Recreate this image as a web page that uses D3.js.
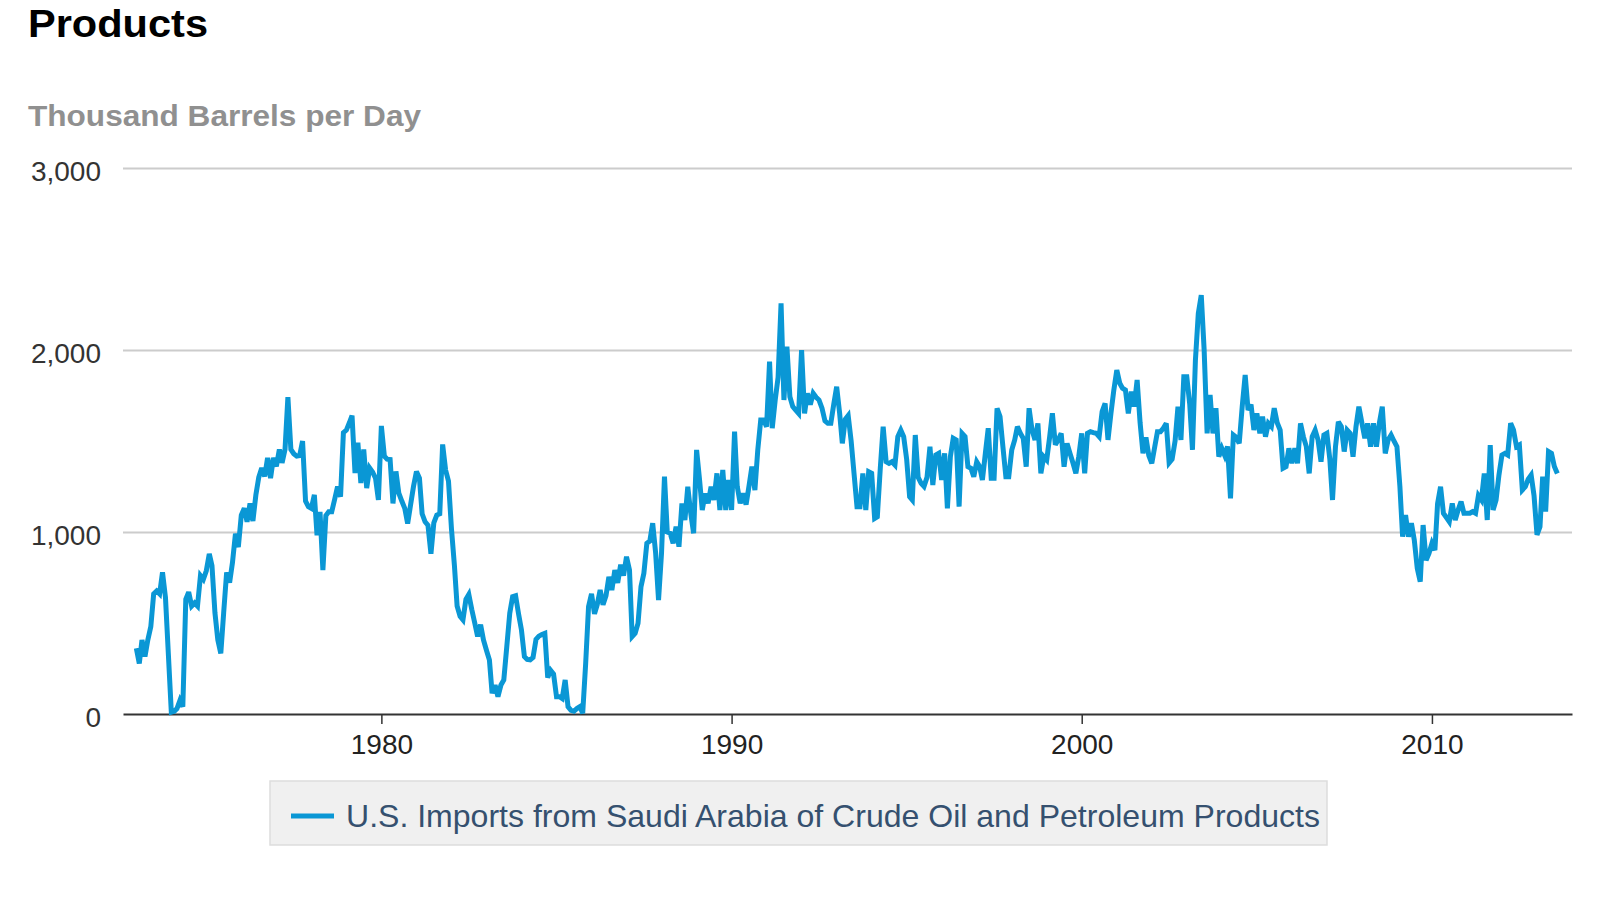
<!DOCTYPE html>
<html>
<head>
<meta charset="utf-8">
<script src="https://cdn.jsdelivr.net/npm/d3@7"></script>
<style>
	body { margin: 0; background: #fff; }
	text { font-family: "Liberation Sans", Arial, Helvetica, sans-serif; }
</style>
</head>
<body>
<div id="theChart"></div>
<script>
// monthly values, thousand barrels per day, starting Jan 1973
const startYear = 1973

const v1970s = [
	361, 278, 407, 315, 407, 480, 660, 676, 660, 778, 640, 330,
	10, 15, 30, 75, 40, 630, 670, 593, 610, 593, 760, 740,
	787, 880, 815, 556, 407, 333, 556, 778, 722, 833, 991, 917,
	1093, 1130, 1056, 1157, 1060, 1204, 1300, 1352, 1306, 1407, 1296, 1407,
	1361, 1454, 1380, 1454, 1741, 1454, 1430, 1417, 1420, 1500, 1170, 1139,
	1130, 1204, 982, 1111, 790, 1090, 1111, 1111, 1180, 1250, 1194, 1546,
	1560, 1600, 1639, 1324, 1491, 1269, 1454, 1241, 1352, 1330, 1296, 1176,
]
const v1980s = [
	1583, 1417, 1400, 1398, 1157, 1333, 1213, 1170, 1130, 1046, 1150, 1250,
	1333, 1296, 1100, 1056, 1037, 880, 1050, 1093, 1100, 1481, 1340, 1280,
	1019, 815, 593, 537, 518, 630, 657, 574, 500, 426, 491, 407,
	350, 297, 114, 159, 95, 159, 187, 370, 553, 645, 650, 553,
	462, 315, 300, 297, 311, 410, 428, 437, 443, 200, 240, 220,
	95, 95, 85, 187, 40, 20, 15, 30, 40, 4, 278, 590,
	660, 550, 600, 681, 600, 650, 754, 681, 791, 720, 820, 760,
	864, 791, 425, 443, 498, 700, 773, 938, 950, 1048, 883, 626,
	883, 1304, 1000, 993, 938, 1029, 919, 1157, 1066, 1249, 1103, 993,
	1451, 1286, 1121, 1212, 1157, 1249, 1176, 1322, 1121, 1341, 1121, 1286,
]
const v1990s = [
	1121, 1551, 1250, 1157, 1212, 1150, 1250, 1359, 1230, 1450, 1615, 1615,
	1579, 1936, 1570, 1725, 1850, 2256, 1725, 2018, 1743, 1689, 1670, 1652,
	2000, 1652, 1762, 1700, 1762, 1740, 1725, 1680, 1610, 1597, 1597, 1700,
	1798, 1652, 1487, 1620, 1640, 1500, 1322, 1139, 1139, 1322, 1121, 1331,
	1322, 1075, 1084, 1350, 1579, 1386, 1377, 1386, 1368, 1524, 1560, 1524,
	1400, 1194, 1176, 1533, 1300, 1267, 1250, 1300, 1469, 1258, 1423, 1432,
	1286, 1432, 1130, 1414, 1515, 1506, 1139, 1542, 1524, 1359, 1350, 1304,
	1386, 1359, 1286, 1432, 1570, 1295, 1295, 1680, 1634, 1469, 1304, 1304,
	1450, 1506, 1579, 1542, 1515, 1359, 1680, 1560, 1506, 1597, 1322, 1414,
	1396, 1524, 1652, 1480, 1506, 1542, 1359, 1487, 1432, 1380, 1322, 1414,
]
const v2000s = [
	1542, 1322, 1542, 1551, 1546, 1542, 1524, 1661, 1707, 1506, 1652, 1780,
	1890, 1817, 1790, 1780, 1652, 1771, 1690, 1835, 1600, 1432, 1520, 1420,
	1377, 1469, 1551, 1551, 1570, 1597, 1380, 1400, 1500, 1689, 1506, 1853,
	1853, 1700, 1451, 1945, 2200, 2302, 2000, 1542, 1753, 1542, 1680, 1414,
	1460, 1420, 1470, 1185, 1533, 1520, 1487, 1689, 1863, 1670, 1700, 1560,
	1652, 1542, 1634, 1524, 1597, 1579, 1680, 1600, 1560, 1350, 1359, 1460,
	1377, 1460, 1377, 1597, 1524, 1469, 1322, 1524, 1560, 1506, 1386, 1533,
	1542, 1400, 1176, 1469, 1606, 1579, 1442, 1560, 1542, 1414, 1579, 1689,
	1600, 1515, 1597, 1469, 1597, 1469, 1597, 1689, 1432, 1506, 1533, 1500,
	1469, 1249, 974, 1093, 974, 1048, 956, 800, 727, 1038, 845, 882,
]
const v2010s = [
	938, 900, 1157, 1249, 1103, 1080, 1057, 1157, 1066, 1121, 1167, 1103,
	1103, 1103, 1112, 1103, 1200, 1176, 1322, 1066, 1478, 1121, 1176, 1313,
	1423, 1432, 1423, 1597, 1560, 1469, 1478, 1231, 1249, 1290, 1313, 1200,
	984, 1029, 1304, 1112, 1442, 1432, 1360, 1322,
]

const yTicks = [0, 1000, 2000, 3000]
const xTickYears = [1980, 1990, 2000, 2010]

const titleText = "Products"
const unitText = "Thousand Barrels per Day"
const seriesName = "U.S. Imports from Saudi Arabia of Crude Oil and Petroleum Products"

const values = [].concat(v1970s, v1980s, v1990s, v2000s, v2010s)
const data = values.map((v, i) => ({ date: new Date(startYear, i, 1), value: v }))

const w = 1600
const h = 900
const plotLeft = 123
const plotRight = 1572
const plotTop = 168
const plotBottom = 714
const lineColor = "#0a97d5"

const svg = d3
	.select("#theChart")
	.append("svg")
	.attr("width", w)
	.attr("height", h)

const x = d3
	.scaleTime()
	.domain([new Date(1972, 7, 15), new Date(2014, 0, 1)])
	.range([plotLeft, plotRight])

const y = d3.scaleLinear().domain([0, 3000]).range([plotBottom, plotTop])

// title + unit
svg.append("text")
	.attr("x", 28)
	.attr("y", 37)
	.attr("textLength", 180)
	.attr("lengthAdjust", "spacingAndGlyphs")
	.style("font-size", "38px")
	.style("font-weight", "bold")
	.style("fill", "#000")
	.text(titleText)

svg.append("text")
	.attr("x", 28)
	.attr("y", 126)
	.attr("textLength", 393)
	.attr("lengthAdjust", "spacingAndGlyphs")
	.style("font-size", "29px")
	.style("font-weight", "bold")
	.style("fill", "#909090")
	.text(unitText)

// y axis with gridlines
const yAxis = svg
	.append("g")
	.attr("transform", `translate(${plotLeft},0)`)
	.call(
		d3
			.axisLeft(y)
			.tickValues(yTicks)
			.tickSize(-(plotRight - plotLeft))
			.tickPadding(22)
			.tickFormat(d3.format(",")),
	)

yAxis.select(".domain").remove()
yAxis
	.selectAll(".tick line")
	.attr("stroke", "#cccccc")
	.attr("stroke-width", 2)
	.attr("display", d => (d === 0 ? "none" : null))
yAxis
	.selectAll(".tick text")
	.attr("dy", "0.46em")
	.style("font-size", "28px")
	.style("fill", "#333")
	.attr("font-family", null)

// x axis
const xAxis = svg
	.append("g")
	.attr("transform", `translate(0,${plotBottom})`)
	.call(
		d3
			.axisBottom(x)
			.tickValues(xTickYears.map(yr => new Date(yr, 0, 1)))
			.tickSizeInner(10)
			.tickSizeOuter(0)
			.tickPadding(10)
			.tickFormat(d3.timeFormat("%Y")),
	)

xAxis.select(".domain").attr("stroke", "#333").attr("stroke-width", 2)
xAxis.selectAll(".tick line").attr("stroke", "#333").attr("stroke-width", 1.5)
xAxis
	.selectAll(".tick text")
	.style("font-size", "28px")
	.style("fill", "#222")
	.attr("font-family", null)

// the series
const line = d3
	.line()
	.x(d => x(d.date))
	.y(d => y(d.value))

svg.append("path")
	.datum(data)
	.attr("d", line)
	.attr("fill", "none")
	.attr("stroke", lineColor)
	.attr("stroke-width", 5)
	.attr("stroke-linejoin", "miter")
	.attr("stroke-miterlimit", 3)

// legend
const legend = svg.append("g").attr("transform", "translate(270, 781)")

legend
	.append("rect")
	.attr("width", 1057)
	.attr("height", 64)
	.attr("fill", "#f0f0f0")
	.attr("stroke", "#dddddd")
	.attr("stroke-width", 1.5)

legend
	.append("line")
	.attr("x1", 21)
	.attr("x2", 64)
	.attr("y1", 35)
	.attr("y2", 35)
	.attr("stroke", lineColor)
	.attr("stroke-width", 5)

legend
	.append("text")
	.attr("x", 76)
	.attr("y", 46)
	.attr("textLength", 974)
	.attr("lengthAdjust", "spacingAndGlyphs")
	.style("font-size", "31.5px")
	.style("fill", "#35506f")
	.text(seriesName)
</script>
</body>
</html>
